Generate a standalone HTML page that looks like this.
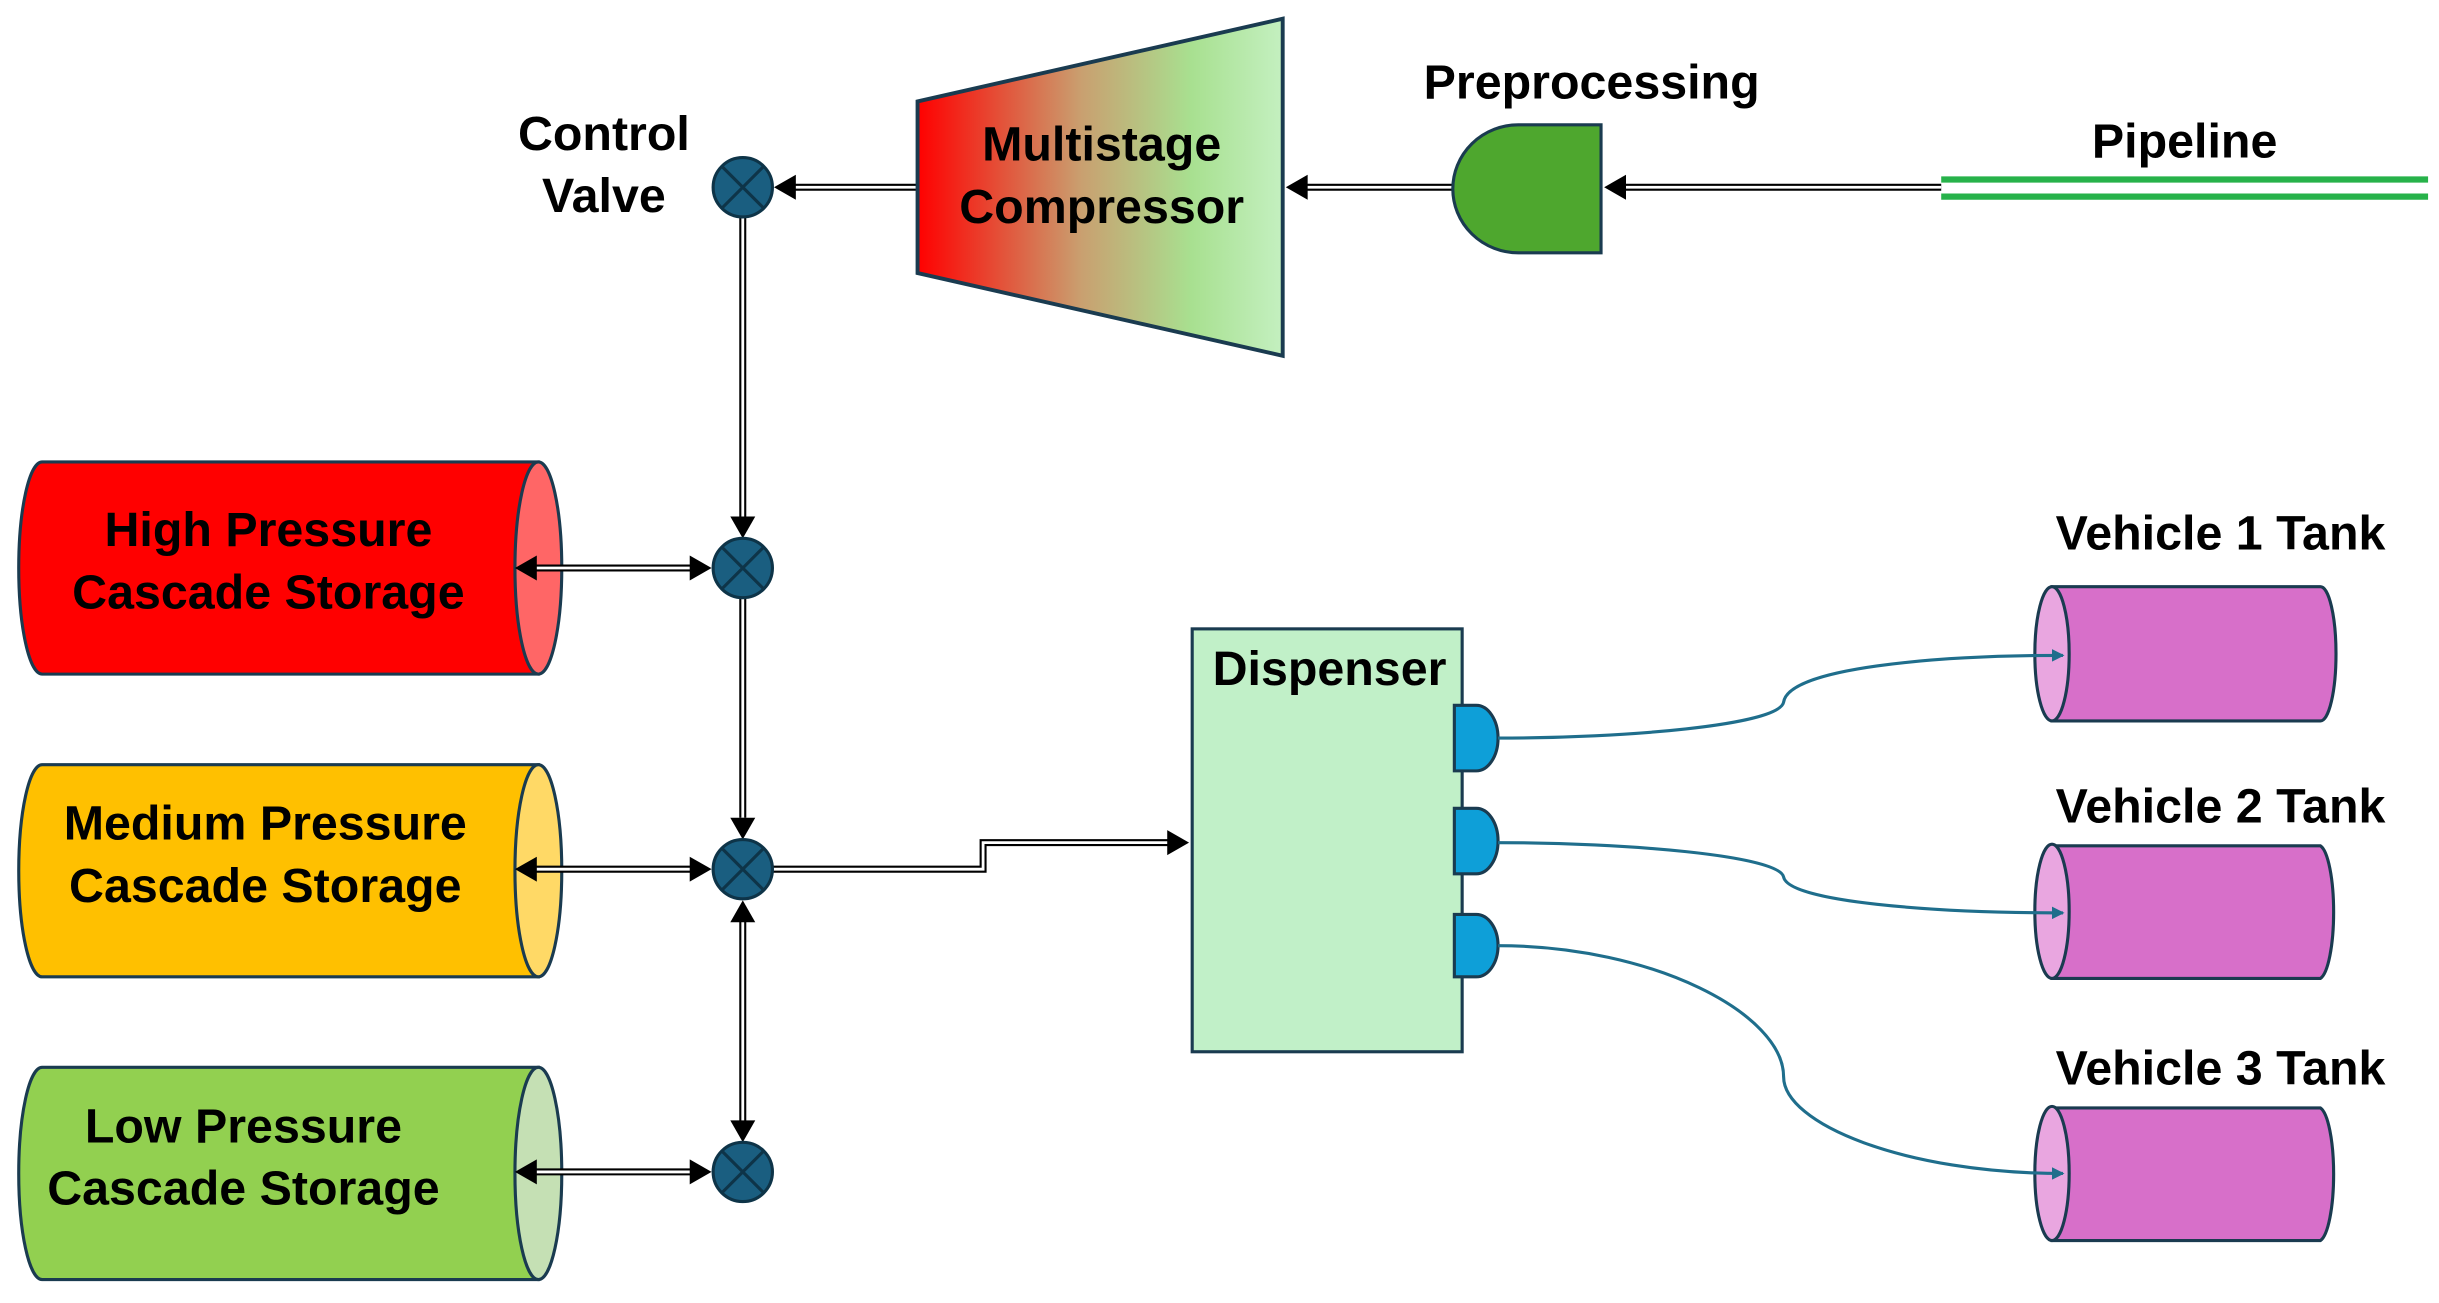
<!DOCTYPE html>
<html><head><meta charset="utf-8"><style>html,body{margin:0;padding:0;background:#fff}svg{display:block}text{font-family:"Liberation Sans",sans-serif;font-weight:bold;fill:#000}</style></head><body>
<svg width="2439" height="1303" viewBox="0 0 1563 835" xmlns="http://www.w3.org/2000/svg">
<defs>
<linearGradient id="g" x1="0" x2="1" y1="0" y2="0"><stop offset="0" stop-color="#f00"/><stop offset="0.45" stop-color="#c9a070"/><stop offset="0.75" stop-color="#a8e090"/><stop offset="1" stop-color="#c4f0c0"/></linearGradient>
<marker id="b" markerWidth="8" markerHeight="8" refX="7" refY="4" orient="auto" markerUnits="userSpaceOnUse" viewBox="0 0 8 8"><path d="M0,0 L8,4 L0,8 z" fill="#1f6e8c"/></marker>
</defs>
<!-- storage cylinders -->
<g stroke="#1a3b50" stroke-width="2">
<path d="M27,296 H345 V432 H27 A15,68 0 0 1 27,296Z" fill="#f00"/><ellipse cx="345" cy="364" rx="15" ry="68" fill="#ff6666"/>
<path d="M27,490 H345 V626 H27 A15,68 0 0 1 27,490Z" fill="#ffc000"/><ellipse cx="345" cy="558" rx="15" ry="68" fill="#ffd966"/>
<path d="M27,684 H345 V820 H27 A15,68 0 0 1 27,684Z" fill="#92d050"/><ellipse cx="345" cy="752" rx="15" ry="68" fill="#c5e0b4"/>
</g>
<g fill="none" stroke="#000">
<g stroke-width="4.5"><path d="M1244,120 H1040"/><path d="M931,120 H836"/><path d="M588,120 H508"/><path d="M476,139 V332"/><path d="M476,383 V524"/><path d="M476,590 V720"/><path d="M495,557 H630 V540 H750"/>
<path d="M342,364 H444"/><path d="M342,557 H444"/><path d="M342,751 H444"/></g>
<g stroke="#fff" stroke-width="1.8"><path d="M1244,120 H1040"/><path d="M931,120 H836"/><path d="M588,120 H508"/><path d="M476,139 V332"/><path d="M476,383 V524"/><path d="M476,590 V720"/><path d="M495,557 H630 V540 H750"/>
<path d="M342,364 H444"/><path d="M342,557 H444"/><path d="M342,751 H444"/></g>
</g>
<g fill="#000">
<path d="M1028,120 l14,-8 v16z"/><path d="M824,120 l14,-8 v16z"/><path d="M496,120 l14,-8 v16z"/>
<path d="M476,345 l-8,-14 h16z"/><path d="M476,538 l-8,-14 h16z"/><path d="M476,577 l-8,14 h16z"/><path d="M476,732 l-8,-14 h16z"/>
<path d="M762,540 l-14,-8 v16z"/>
<path d="M456,364 l-14,-8 v16z"/><path d="M330,364 l14,-8 v16z"/>
<path d="M456,557 l-14,-8 v16z"/><path d="M330,557 l14,-8 v16z"/>
<path d="M456,751 l-14,-8 v16z"/><path d="M330,751 l14,-8 v16z"/>
</g>
<path d="M1244,115 H1556 M1244,126 H1556" stroke="#27b24a" stroke-width="4"/>
<path d="M1026,80 V162 H973 A42,41 0 0 1 973,80 Z" fill="#4ea72e" stroke="#1a3b50" stroke-width="2"/>
<path d="M588,65 L822,12 L822,228 L588,175 Z" fill="url(#g)" stroke="#1a3b50" stroke-width="2.5"/>
<g fill="#1a5e80" stroke="#0e3448" stroke-width="2">
<ellipse cx="476" cy="120" rx="19" ry="19"/><ellipse cx="476" cy="364" rx="19" ry="19"/><ellipse cx="476" cy="557" rx="19" ry="19"/><ellipse cx="476" cy="751" rx="19" ry="19"/></g>
<g stroke="#0e3448" stroke-width="2">
<path d="M463,107 L489,133 M489,107 L463,133"/><path d="M463,351 L489,377 M489,351 L463,377"/><path d="M463,544 L489,570 M489,544 L463,570"/><path d="M463,738 L489,764 M489,738 L463,764"/></g>
<rect x="764" y="403" width="173" height="271" fill="#c1f0c8" stroke="#1a3b50" stroke-width="2"/>
<g fill="#0e9fd8" stroke="#1a3b50" stroke-width="2">
<path d="M932,452 H946 A14,21 0 0 1 946,494 H932Z"/><path d="M932,518 H946 A14,21 0 0 1 946,560 H932Z"/><path d="M932,586 H946 A14,20 0 0 1 946,626 H932Z"/></g>
<g stroke="#1a3b50" stroke-width="2">
<path d="M1315,376 H1487 A10,43 0 0 1 1487,462 H1315Z" fill="#d76fc9"/><ellipse cx="1315" cy="419" rx="11" ry="43" fill="#e9a6e0"/>
<path d="M1315,542 H1487 A10,43 0 0 1 1487,627 H1315Z" fill="#d76fc9"/><ellipse cx="1315" cy="584" rx="11" ry="43" fill="#e9a6e0"/>
<path d="M1315,710 H1487 A10,43 0 0 1 1487,795 H1315Z" fill="#d76fc9"/><ellipse cx="1315" cy="752" rx="11" ry="43" fill="#e9a6e0"/>
</g>
<g fill="none" stroke="#1f6e8c" stroke-width="2">
<path d="M960,473 C1040,473 1140,465 1143,450 C1146,428 1240,420 1322,420" marker-end="url(#b)"/>
<path d="M960,540 C1040,540 1140,548 1143,562 C1146,578 1240,585 1322,585" marker-end="url(#b)"/>
<path d="M960,606 C1060,606 1143,650 1143,690 C1143,720 1220,752 1322,752" marker-end="url(#b)"/>
</g>
<g font-size="31" text-anchor="middle">
<text x="387" y="96">Control</text><text x="387" y="136">Valve</text>
<text x="706" y="103">Multistage</text><text x="706" y="143">Compressor</text>
<text x="1020" y="63">Preprocessing</text>
<text x="1400" y="101">Pipeline</text>
<text x="172" y="350">High Pressure</text><text x="172" y="390">Cascade Storage</text>
<text x="170" y="538">Medium Pressure</text><text x="170" y="578">Cascade Storage</text>
<text x="156" y="732">Low Pressure</text><text x="156" y="772">Cascade Storage</text>
<text x="852" y="439">Dispenser</text>
<text x="1423" y="352">Vehicle 1 Tank</text>
<text x="1423" y="527">Vehicle 2 Tank</text>
<text x="1423" y="695">Vehicle 3 Tank</text>
</g>
</svg>
</body></html>
